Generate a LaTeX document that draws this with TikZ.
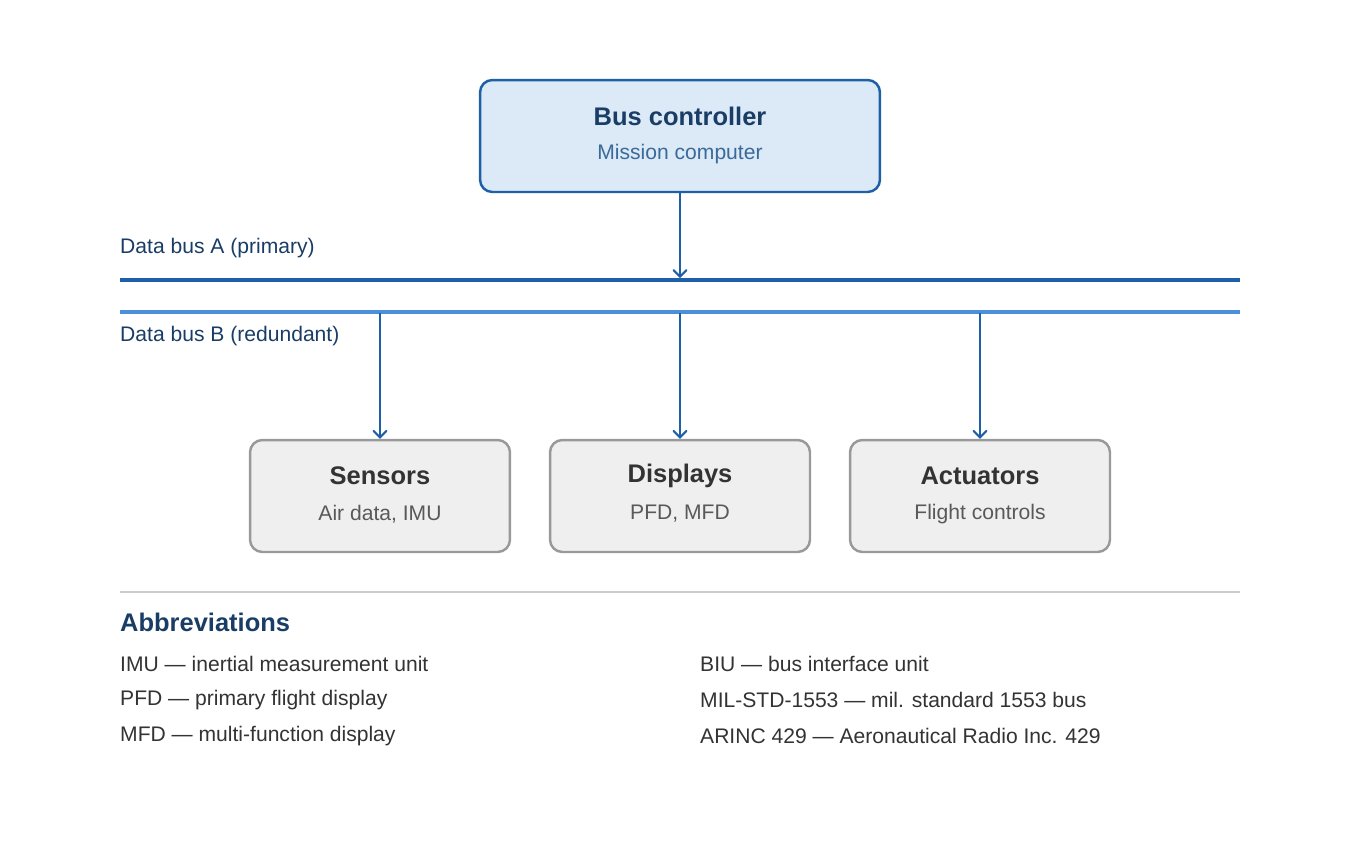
\documentclass[tikz,border=0pt]{standalone}
\usepackage{fontspec}
\setmainfont{Liberation Sans}
\usetikzlibrary{arrows}
\usetikzlibrary{positioning}
\definecolor{navy}{HTML}{1A3D66}
\definecolor{busA}{HTML}{1F5FA8}
\definecolor{busB}{HTML}{4A90D9}
\definecolor{ctlfill}{HTML}{DCEAF7}
\definecolor{unitfill}{HTML}{EFEFEF}
\definecolor{unitline}{HTML}{999999}
\definecolor{sub}{HTML}{3A6A9A}
\tikzset{
  ctlbox/.style={draw=busA,fill=ctlfill,line width=1.4pt,rounded corners=7pt,minimum width=8cm,minimum height=2.24cm},
  unitbox/.style={draw=unitline,fill=unitfill,line width=1.4pt,rounded corners=7pt,minimum width=5.2cm,minimum height=2.24cm},
  busarrow/.style={draw=busA,line width=1.2pt,->,>=angle 90},
  abbr/.style={anchor=west,font=\fontsize{12}{14}\selectfont,text=black!80}
}
\begin{document}
\begin{tikzpicture}[x=0.02cm,y=-0.02cm]

  \useasboundingbox (0,0) rectangle (1360,840);

  \node [ctlbox] (ctl) at (680,136) {};
  \node [font=\bfseries\fontsize{14.5}{16}\selectfont,text=navy] at (680,116) {Bus controller};
  \node [font=\fontsize{12}{14}\selectfont,text=sub] at (680,154) {Mission computer};

  \coordinate (a_l) at (120,280);
  \coordinate (a_r) at (1240,280);
  \coordinate (b_l) at (120,312);
  \coordinate (b_r) at (1240,312);
  \draw [busA,line width=2.4pt] (a_l) -- (a_r);
  \draw [busB,line width=2.4pt] (b_l) -- (b_r);
  \node [anchor=west,font=\fontsize{12}{14}\selectfont,text=navy] at (114,248) {Data bus A (primary)};
  \node [anchor=west,font=\fontsize{12}{14}\selectfont,text=navy] at (114,336) {Data bus B (redundant)};

  \coordinate (a_in) at (680,278);
  \path [busarrow] (ctl.south) -- (a_in);

  \foreach \x/\nm/\title/\desc in {380/sens/Sensors/{Air data, IMU},680/disp/Displays/{PFD, MFD},980/act/Actuators/Flight controls} {
    \node [unitbox] (\nm) at (\x,496) {};
    \node [font=\bfseries\fontsize{14.5}{16}\selectfont,text=black!80] at (\x,476) {\title};
    \node [font=\fontsize{12}{14}\selectfont,text=black!65] at (\x,514) {\desc};
    \coordinate (\nm_tap) at (\x,313);
    \path [busarrow] (\nm_tap) -- (\nm.north);
  }

  \draw [black!20,line width=0.8pt] (120,592) -- (1240,592);
  \node [anchor=west,font=\bfseries\fontsize{14.5}{16}\selectfont,text=navy] at (114,622) {Abbreviations};
  \node [abbr] at (114,664) {IMU — inertial measurement unit};
  \node [abbr] at (114,700) {PFD — primary flight display};
  \node [abbr] at (114,736) {MFD — multi-function display};
  \node [abbr] at (694,664) {BIU — bus interface unit};
  \node [abbr] at (694,700) {MIL-STD-1553 — mil. standard 1553 bus};
  \node [abbr] at (694,736) {ARINC 429 — Aeronautical Radio Inc. 429};

\end{tikzpicture}
\end{document}
